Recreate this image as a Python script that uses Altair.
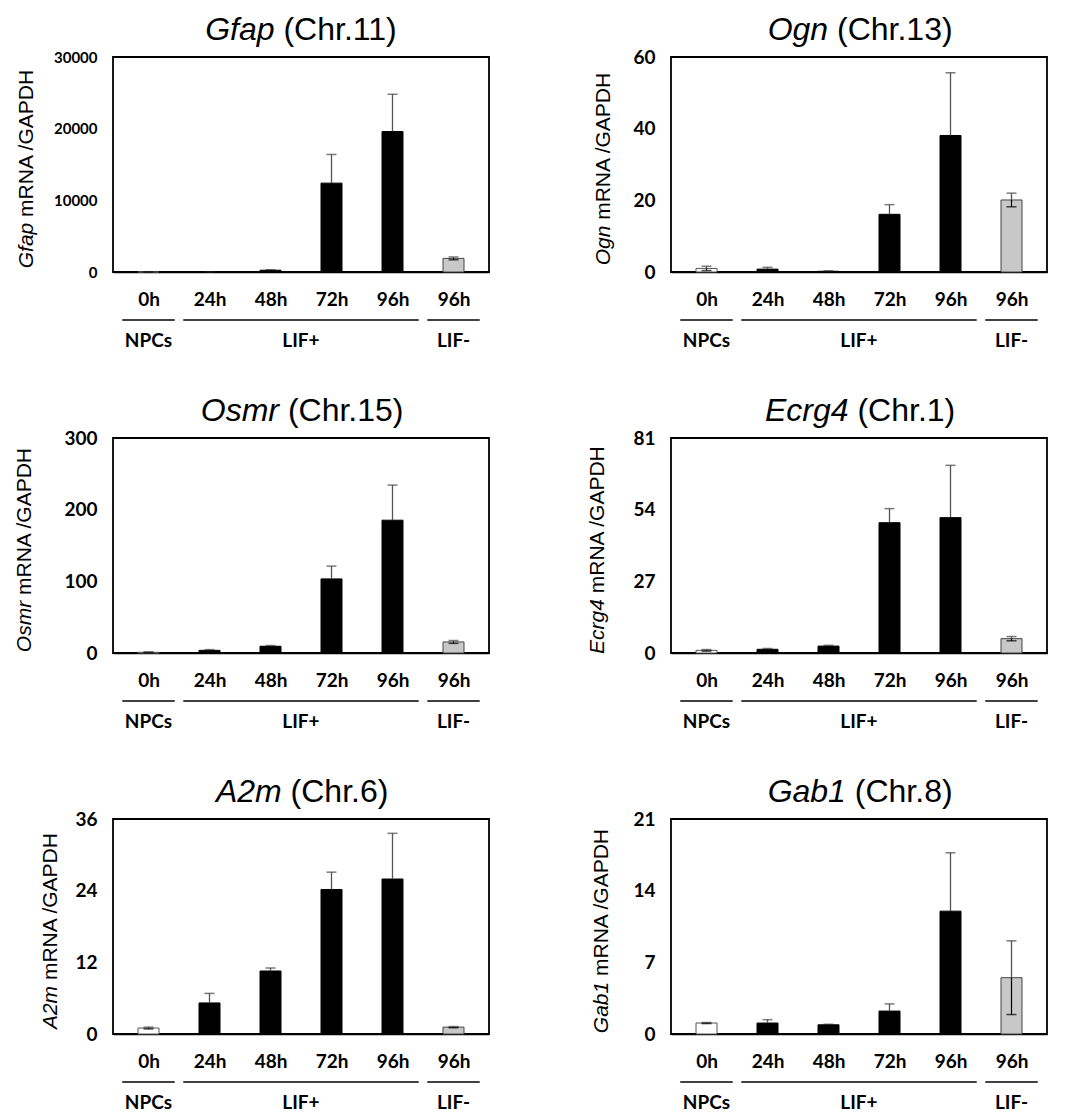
import json
import altair as alt
import pandas as pd

# ---------------- data ----------------
times = ["0h", "24h", "48h", "72h", "96h", "96h"]
conditions = ["NPCs", "LIF+", "LIF+", "LIF+", "LIF+", "LIF-"]

genes = ["Gfap", "Ogn", "Osmr", "Ecrg4", "A2m", "Gab1"]
chromosomes = ["Chr.11", "Chr.13", "Chr.15", "Chr.1", "Chr.6", "Chr.8"]

gfap_mean = [1, 30, 250, 12400, 19600, 1900]
gfap_err = [2, 10, 50, 4000, 5200, 200]
ogn_mean = [1.0, 0.8, 0.2, 16.1, 38.1, 20.1]
ogn_err = [0.6, 0.5, 0.05, 2.7, 17.5, 1.9]
osmr_mean = [1.0, 3.7, 9.4, 103.4, 185.3, 15.4]
osmr_err = [0.2, 1.0, 1.0, 17.8, 49.0, 2.0]
ecrg4_mean = [1.0, 1.4, 2.6, 49.1, 51.0, 5.4]
ecrg4_err = [0.3, 0.3, 0.3, 5.3, 19.7, 0.8]
a2m_mean = [1.0, 5.2, 10.55, 24.2, 25.95, 1.15]
a2m_err = [0.15, 1.6, 0.5, 2.9, 7.65, 0.1]
gab1_mean = [1.07, 1.07, 0.9, 2.24, 12.0, 5.5]
gab1_err = [0.05, 0.33, 0.05, 0.7, 5.7, 3.6]

means = [gfap_mean, ogn_mean, osmr_mean, ecrg4_mean, a2m_mean, gab1_mean]
errs = [gfap_err, ogn_err, osmr_err, ecrg4_err, a2m_err, gab1_err]

y_ticks = [
    [0, 10000, 20000, 30000],
    [0, 20, 40, 60],
    [0, 100, 200, 300],
    [0, 27, 54, 81],
    [0, 12, 24, 36],
    [0, 7, 14, 21],
]

groups = ["NPCs", "LIF+", "LIF-"]
group_start = [0, 1, 5]
group_end = [0, 4, 5]

# ---------------- layout / style ----------------
W, H = 376, 215
YTITLE_OFFSET = [86, 67, 88, 73, 62, 69]
YLABEL_SIZE = [15, 19, 19, 19, 19, 19]
TITLE_SIZE = 32
YTITLE_SIZE = 21

ARIAL = {
    " ": 278, "(": 333, ")": 333, ".": 278, "/": 278,
    "A": 667, "C": 722, "D": 722, "E": 667, "G": 778, "H": 722, "N": 722,
    "O": 778, "P": 667, "R": 722,
    "a": 556, "b": 556, "c": 500, "f": 278, "g": 556, "h": 556, "m": 833,
    "n": 556, "p": 556, "r": 333, "s": 500,
}


def tw(s, size):
    return sum(ARIAL.get(ch, 556) for ch in s) * size / 1000.0


def text_layer(txt, x, y, size, italic=False, angle=0):
    props = dict(align="left", baseline="alphabetic" if angle == 0 else "middle",
                 font="Liberation Sans", fontSize=size, color="black")
    if italic:
        props["fontStyle"] = "italic"
    if angle:
        props["angle"] = angle
    return alt.Chart(pd.DataFrame({"t": [txt]})).mark_text(**props).encode(
        text="t:N", x=alt.value(x), y=alt.value(y)
    )


def panel(i):
    m, e = means[i], errs[i]
    df = pd.DataFrame({
        "pos": [k + 0.5 for k in range(len(times))],
        "time": times,
        "cond": conditions,
        "mean": m,
        "lo": [max(a - b, 0) for a, b in zip(m, e)],
        "hi": [a + b for a, b in zip(m, e)],
    })
    xscale = alt.Scale(domain=[0, len(times)], nice=False, zero=False)
    xaxis = alt.Axis(
        values=list(df["pos"]),
        labelExpr=json.dumps(times) + "[floor(datum.value)]",
        title=None, ticks=False, grid=False, domain=True,
        domainColor="black", domainWidth=1.5,
        labelFont="Lato", labelFontWeight="bold", labelFontSize=19,
        labelColor="black", labelPadding=18,
    )
    yscale = alt.Scale(domain=[0, y_ticks[i][-1]], nice=False)
    yaxis = alt.Axis(
        values=y_ticks[i], title=None, ticks=False, grid=False, domain=False,
        labelFont="Lato", labelFontWeight="bold", labelFontSize=YLABEL_SIZE[i],
        labelColor="black", labelPadding=16, format="d",
    )
    base = alt.Chart(df)
    X = alt.X("pos:Q", scale=xscale, axis=xaxis)
    bars = base.mark_bar(size=21, strokeWidth=1).encode(
        x=X,
        y=alt.Y("mean:Q", scale=yscale, axis=yaxis),
        fill=alt.Fill("cond:N", scale=alt.Scale(domain=groups, range=["white", "black", "#c8c8c8"]), legend=None),
        stroke=alt.Stroke("cond:N", scale=alt.Scale(domain=groups, range=["#555555", "black", "#444444"]), legend=None),
    )
    rule_up = base.mark_rule(color="#555555", strokeWidth=1.3).encode(
        x=X, y=alt.Y("mean:Q", scale=yscale, axis=yaxis), y2="hi:Q",
    )
    rule_dn = base.mark_rule(color="black", strokeWidth=1.2).encode(
        x=X, y=alt.Y("lo:Q", scale=yscale, axis=yaxis), y2="mean:Q",
    )
    cap_hi = base.mark_tick(color="#444444", size=10, thickness=1.5, orient="horizontal").encode(
        x=X, y=alt.Y("hi:Q", scale=yscale, axis=yaxis),
    )
    cap_lo = base.mark_tick(color="black", size=10, thickness=1.5, orient="horizontal").encode(
        x=X, y=alt.Y("lo:Q", scale=yscale, axis=yaxis),
    )

    # title: italic gene + normal chromosome
    gene = genes[i]
    rest = "(" + chromosomes[i] + ")"
    tot = tw(gene + " " + rest, TITLE_SIZE)
    x0 = W / 2 - tot / 2 + 2
    t1 = text_layer(gene, x0, -17, TITLE_SIZE, italic=True)
    t2 = text_layer(rest, x0 + tw(gene + " ", TITLE_SIZE), -17, TITLE_SIZE)

    # y title: italic gene + " mRNA /GAPDH", rotated
    yrest = "mRNA /GAPDH"
    ytot = tw(gene + " " + yrest, YTITLE_SIZE)
    cy = H / 2 + 4
    ybot = cy + ytot / 2
    xt = -YTITLE_OFFSET[i]
    y1 = text_layer(gene, xt, ybot, YTITLE_SIZE, italic=True, angle=270)
    y2 = text_layer(yrest, xt, ybot - tw(gene + " ", YTITLE_SIZE), YTITLE_SIZE, angle=270)

    gdf = pd.DataFrame({"grp": groups, "start": group_start, "end": group_end})
    gbase = alt.Chart(gdf).transform_calculate(
        x1="datum.start + 0.07", x2="datum.end + 0.93"
    ).transform_calculate(xc="(datum.x1 + datum.x2) / 2")
    grule = gbase.mark_rule(color="black", strokeWidth=1.6).encode(
        x=alt.X("x1:Q", scale=xscale, axis=xaxis),
        x2="x2:Q",
        y=alt.value(H + 48),
    )
    gtext = gbase.mark_text(font="Lato", fontWeight="bold", fontSize=19, color="black",
                            baseline="middle", align="center").encode(
        x=alt.X("xc:Q", scale=xscale, axis=xaxis),
        y=alt.value(H + 69),
        text="grp:N",
    )
    return alt.layer(bars, rule_up, rule_dn, cap_hi, cap_lo, t1, t2, y1, y2, grule, gtext).properties(
        width=W, height=H
    )


chart = alt.concat(
    *[panel(i) for i in range(6)],
    columns=2,
    spacing={"row": 166, "column": 182},
    bounds="flush",
).properties(
    padding={"left": 5, "top": 5, "right": 5, "bottom": 5}
).configure_view(stroke="black", strokeWidth=1.8)

chart.save("out.html", embed_options={"renderer": "svg", "actions": False})
